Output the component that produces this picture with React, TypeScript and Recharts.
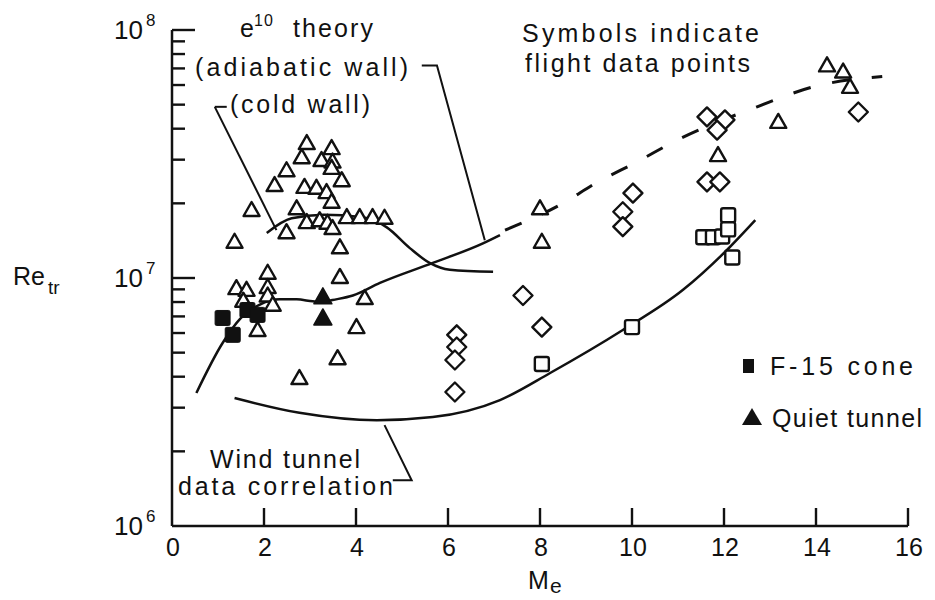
import React from 'react';
import { ComposedChart, XAxis, YAxis, Line, Scatter } from 'recharts';

type P = [number, number];

// ---------- axis ticks ----------
const xTicks = [0, 2, 4, 6, 8, 10, 12, 14, 16];
const yTicks = [
  1e6, 2e6, 3e6, 4e6, 5e6, 6e6, 7e6, 8e6, 9e6,
  1e7, 2e7, 3e7, 4e7, 5e7, 6e7, 7e7, 8e7, 9e7, 1e8,
];

// ---------- flight data (M_e, Re_tr) ----------
const flightTriangles: P[] = [
  [2.93, 3.5e7], [3.47, 3.34e7], [2.82, 3.07e7], [3.25, 2.99e7], [3.49, 2.95e7],
  [3.47, 2.78e7], [2.49, 2.72e7], [3.69, 2.48e7], [2.23, 2.37e7], [2.88, 2.33e7],
  [3.14, 2.31e7], [3.36, 2.22e7], [3.47, 2.03e7], [1.73, 1.88e7], [2.71, 1.91e7],
  [2.93, 1.68e7], [3.21, 1.71e7], [3.38, 1.67e7], [3.49, 1.59e7], [3.8, 1.76e7],
  [4.08, 1.76e7], [4.36, 1.76e7], [4.62, 1.75e7], [2.49, 1.53e7], [1.36, 1.4e7],
  [3.65, 1.33e7], [3.65, 1.01e7], [2.08, 1.05e7], [1.4, 9.1e6], [1.62, 8.96e6],
  [2.08, 9.2e6], [2.08, 8.5e6], [2.19, 7.8e6], [1.55, 8.1e6], [1.86, 6.17e6],
  [4.19, 8.3e6], [4.01, 6.34e6], [3.6, 4.75e6], [2.77, 3.95e6],
  [8.0, 1.91e7], [8.04, 1.4e7], [11.87, 3.13e7], [13.18, 4.26e7],
  [14.24, 7.2e7], [14.59, 6.8e7], [14.74, 5.9e7],
];
const flightDiamonds: P[] = [
  [11.63, 4.46e7], [12.02, 4.34e7], [11.85, 3.95e7], [14.92, 4.67e7],
  [11.63, 2.44e7], [11.91, 2.44e7], [10.02, 2.2e7], [9.8, 1.85e7], [9.8, 1.61e7],
  [7.63, 8.5e6], [8.04, 6.34e6], [6.19, 5.9e6], [6.19, 5.27e6], [6.15, 4.67e6],
  [6.15, 3.47e6],
];
const flightSquares: P[] = [
  [11.55, 1.46e7], [11.76, 1.46e7], [11.96, 1.47e7], [12.09, 1.79e7],
  [12.09, 1.57e7], [12.18, 1.21e7], [10.0, 6.34e6], [8.04, 4.5e6],
];
const f15Cone: P[] = [[1.1, 6.9e6], [1.32, 5.9e6], [1.64, 7.43e6], [1.86, 7.1e6]];
const quietTunnel: P[] = [[3.28, 8.4e6], [3.28, 6.9e6]];

// ---------- curves ----------
const adiabaticSolid: P[] = [
  [0.53, 3.44e6], [1.1, 5.47e6], [1.5, 6.9e6], [1.9, 7.8e6], [2.34, 8.2e6],
  [2.71, 8.2e6], [3.06, 8.05e6], [3.28, 8.0e6], [3.49, 8.15e6], [3.93, 8.5e6],
  [4.52, 9.55e6], [5.67, 1.15e7], [6.76, 1.38e7], [7.13, 1.49e7],
];
const adiabaticDashed: P[] = [
  [7.24, 1.56e7], [8.43, 1.97e7], [9.26, 2.44e7], [10.11, 2.94e7], [10.98, 3.6e7],
  [12.72, 4.9e7], [13.94, 5.9e7], [15.44, 6.5e7],
];
const coldWall: P[] = [
  [2.06, 1.52e7], [2.6, 1.74e7], [3.3, 1.8e7], [4.1, 1.76e7], [4.67, 1.6e7],
  [5.17, 1.32e7], [5.6, 1.15e7], [6.04, 1.08e7], [6.98, 1.06e7],
];
const windTunnel: P[] = [
  [1.36, 3.28e6], [2.77, 2.86e6], [4.45, 2.67e6], [5.67, 2.75e6], [7.13, 3.22e6],
  [8.22, 4.14e6], [9.8, 6.17e6], [11.11, 8.96e6], [12.07, 1.3e7], [12.68, 1.71e7],
];

// ---------- leader lines ----------
const leaderAdiabatic: P[] = [[5.43, 7.2e7], [5.76, 7.2e7], [6.8, 1.42e7]];
const leaderColdDash: P[] = [[0.93, 4.9e7], [1.19, 4.9e7]];
const leaderCold: P[] = [[0.93, 4.9e7], [2.27, 1.56e7]];
const leaderWind: P[] = [[4.62, 2.55e6], [5.21, 1.53e6], [4.8, 1.53e6]];

const toXY = (a: P[]) => a.map(([x, y]) => ({ x, y }));

const FONT = '"Liberation Sans", Arial, Helvetica, sans-serif';
const INK = '#111';

const TriOpen = (p: any) => {
  const { cx, cy } = p;
  if (cx == null || cy == null) return <g />;
  return (
    <path
      d={`M${cx},${cy - 8} L${cx + 8},${cy + 6} L${cx - 8},${cy + 6} Z`}
      fill="#fff" stroke={INK} strokeWidth={2.4} strokeLinejoin="round"
    />
  );
};
const TriFilled = (p: any) => {
  const { cx, cy } = p;
  if (cx == null || cy == null) return <g />;
  return (
    <path
      d={`M${cx},${cy - 9} L${cx + 9},${cy + 7} L${cx - 9},${cy + 7} Z`}
      fill={INK} stroke={INK} strokeWidth={1.5} strokeLinejoin="round"
    />
  );
};
const DiamondOpen = (p: any) => {
  const { cx, cy } = p;
  if (cx == null || cy == null) return <g />;
  const h = 9.5;
  return (
    <path
      d={`M${cx},${cy - h} L${cx + h},${cy} L${cx},${cy + h} L${cx - h},${cy} Z`}
      fill="#fff" stroke={INK} strokeWidth={2.4} strokeLinejoin="round"
    />
  );
};
const SquareOpen = (p: any) => {
  const { cx, cy } = p;
  if (cx == null || cy == null) return <g />;
  return (
    <rect x={cx - 7} y={cy - 7} width={14} height={14} rx={2}
      fill="#fff" stroke={INK} strokeWidth={2.4} />
  );
};
const SquareFilled = (p: any) => {
  const { cx, cy } = p;
  if (cx == null || cy == null) return <g />;
  return (
    <rect x={cx - 7.5} y={cy - 7.5} width={15} height={15} rx={1.5}
      fill={INK} stroke={INK} strokeWidth={1} />
  );
};

const YTick = (props: any) => {
  const { x, y, payload } = props;
  const v = payload.value as number;
  const exp = Math.round(Math.log10(v));
  const major = Math.abs(v - Math.pow(10, exp)) < 1;
  return (
    <g>
      {v > 1.5e6 || !major ? (
        <line x1={x} x2={x + (major ? 23 : 13)} y1={y} y2={y} stroke={INK} strokeWidth={2.4} />
      ) : null}
      {major ? (
        <text x={x - 29} y={y + 9} textAnchor="end" fontSize={26} fontFamily={FONT} fill={INK}>10</text>
      ) : null}
      {major ? (
        <text x={x - 26} y={y - 4} fontSize={17} fontFamily={FONT} fill={INK}>{exp}</text>
      ) : null}
    </g>
  );
};

const XTick = (props: any) => {
  const { x, y, payload } = props;
  const v = payload.value as number;
  return (
    <g>
      {v > 0 ? <line x1={x} x2={x} y1={y} y2={y - 18} stroke={INK} strokeWidth={2.4} /> : null}
      <text x={x + 1} y={y + 30} textAnchor="middle" fontSize={25} fontFamily={FONT} fill={INK}>{v}</text>
    </g>
  );
};

const curveProps = {
  dataKey: 'y',
  dot: false,
  activeDot: false,
  isAnimationActive: false,
  stroke: INK,
  strokeWidth: 2.5,
  legendType: 'none' as const,
};

const T = ({ x, y, len, size = 25, children }: any) => (
  <text x={x} y={y} textLength={len} lengthAdjust={len ? 'spacing' : undefined}
    fontSize={size} fontFamily={FONT} fill={INK}>{children}</text>
);

export default function App() {
  return (
    <div style={{ position: 'absolute', left: 0, top: 0, width: 935, height: 600, background: '#fff' }}>
      <ComposedChart width={935} height={600} margin={{ top: 30, right: 27, bottom: 0, left: 0 }}>
        <XAxis
          type="number" dataKey="x" domain={[0, 16]} allowDataOverflow ticks={xTicks} interval={0}
          height={74} tickSize={0} tickMargin={0} tickLine={false} tick={<XTick />}
          axisLine={{ stroke: INK, strokeWidth: 2.5 }}
        />
        <YAxis
          type="number" dataKey="y" scale="log" domain={[1e6, 1e8]} allowDataOverflow ticks={yTicks}
          interval={0} width={172} tickSize={0} tickMargin={0} tickLine={false} tick={<YTick />}
          axisLine={{ stroke: INK, strokeWidth: 2.5 }}
        />
        <Line {...curveProps} type="monotone" data={toXY(windTunnel)} />
        <Line {...curveProps} type="monotone" data={toXY(coldWall)} />
        <Line {...curveProps} type="monotone" data={toXY(adiabaticSolid)} />
        <Line {...curveProps} type="monotone" data={toXY(adiabaticDashed)} strokeDasharray="18 22" strokeWidth={3} />
        <Line {...curveProps} type="linear" data={toXY(leaderAdiabatic)} strokeWidth={2} />
        <Line {...curveProps} type="linear" data={toXY(leaderColdDash)} strokeWidth={2} />
        <Line {...curveProps} type="linear" data={toXY(leaderCold)} strokeWidth={2} />
        <Line {...curveProps} type="linear" data={toXY(leaderWind)} strokeWidth={2} />
        <Scatter data={toXY(flightTriangles)} shape={<TriOpen />} isAnimationActive={false} />
        <Scatter data={toXY(flightDiamonds)} shape={<DiamondOpen />} isAnimationActive={false} />
        <Scatter data={toXY(flightSquares)} shape={<SquareOpen />} isAnimationActive={false} />
        <Scatter data={toXY(f15Cone)} shape={<SquareFilled />} isAnimationActive={false} />
        <Scatter data={toXY(quietTunnel)} shape={<TriFilled />} isAnimationActive={false} />
      </ComposedChart>
      <svg width={935} height={600} style={{ position: 'absolute', left: 0, top: 0, pointerEvents: 'none' }}>
        <T x={240} y={37}>e</T>
        <T x={254} y={26} size={16} len={19}>10</T>
        <T x={293} y={37} len={80}>theory</T>
        <T x={195} y={76} len={213}>(adiabatic wall)</T>
        <T x={230} y={113} len={140}>(cold wall)</T>
        <T x={522} y={42} len={237}>Symbols indicate</T>
        <T x={525} y={72} len={225}>flight data points</T>
        <T x={210} y={468} len={150}>Wind tunnel</T>
        <T x={178} y={495} len={215}>data correlation</T>
        <rect x={743} y={359} width={11} height={14} fill={INK} />
        <T x={770} y={375} len={143}>F-15 cone</T>
        <path d="M752,408 L762,425 L742,425 Z" fill={INK} />
        <T x={772} y={427} len={150}>Quiet tunnel</T>
        <T x={13} y={285}>Re</T>
        <T x={48} y={294} size={19}>tr</T>
        <T x={528} y={589}>M</T>
        <T x={550} y={593} size={21}>e</T>
      </svg>
    </div>
  );
}
